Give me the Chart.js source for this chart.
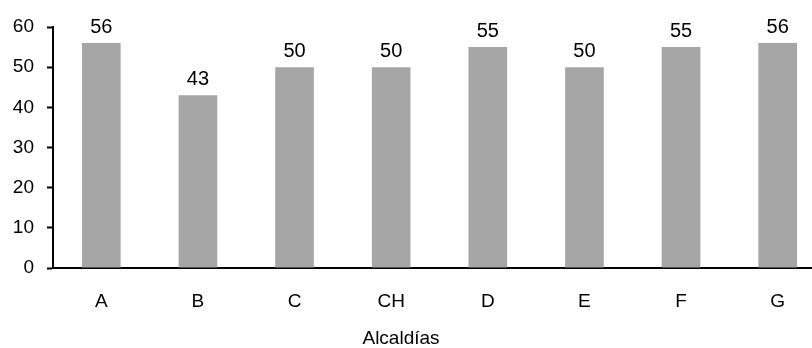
<!DOCTYPE html>
<html>
<head>
<meta charset="utf-8">
<script src="https://cdn.jsdelivr.net/npm/chart.js@4"></script>
<style>
  html, body { margin: 0; padding: 0; background: #fff; overflow: hidden; }
  #wrap { position: relative; width: 826px; height: 348px; }
</style>
</head>
<body>
<div id="wrap"><canvas id="chart"></canvas></div>
<script>
// Alcaldías and their values
const categories = ['A', 'B', 'C', 'CH', 'D', 'E', 'F', 'G'];
const values = [56, 43, 50, 50, 55, 50, 55, 56];
const yTicks = [0, 10, 20, 30, 40, 50, 60];
const axisTitle = 'Alcaldías';

const FONT = '"Liberation Sans", Arial, sans-serif';
const SIZE = 19;
const LABEL_SIZE = 20;

// value written above each bar
const barValueLabels = {
  id: 'barValueLabels',
  afterDatasetsDraw(chart) {
    const ctx = chart.ctx;
    const meta = chart.getDatasetMeta(0);
    ctx.save();
    ctx.font = LABEL_SIZE + 'px ' + FONT;
    ctx.fillStyle = '#000';
    ctx.textAlign = 'center';
    ctx.textBaseline = 'alphabetic';
    meta.data.forEach((bar, i) => {
      ctx.fillText(String(values[i]), bar.x, bar.y - 10);
    });
    ctx.restore();
  }
};

// category axis caption
const axisCaption = {
  id: 'axisCaption',
  afterDraw(chart) {
    const ctx = chart.ctx;
    ctx.save();
    ctx.font = SIZE + 'px ' + FONT;
    ctx.fillStyle = '#000';
    ctx.textAlign = 'center';
    ctx.textBaseline = 'middle';
    ctx.fillText(axisTitle, 401, 339);
    ctx.restore();
  }
};

new Chart(document.getElementById('chart'), {
  type: 'bar',
  data: {
    labels: categories,
    datasets: [{
      data: values,
      backgroundColor: '#a6a6a6',
      borderWidth: 0,
      categoryPercentage: 0.4,
      barPercentage: 1
    }]
  },
  options: {
    responsive: true,
    maintainAspectRatio: false,
    animation: false,
    layout: { padding: { top: 27, right: 0, bottom: 0, left: 0 } },
    plugins: {
      legend: { display: false },
      tooltip: { enabled: false }
    },
    scales: {
      x: {
        grid: { display: false, drawTicks: false },
        border: { display: true, color: '#000', width: 2 },
        ticks: {
          color: '#000',
          font: { family: FONT, size: SIZE },
          padding: 22,
          maxRotation: 0
        },
        afterFit(scale) { scale.height = 80; }
      },
      y: {
        min: 0,
        max: 60,
        afterBuildTicks(scale) { scale.ticks = yTicks.map(v => ({ value: v })); },
        grid: {
          display: true,
          drawOnChartArea: false,
          drawTicks: true,
          tickLength: 6,
          tickColor: '#000',
          tickWidth: 2
        },
        border: { display: true, color: '#000', width: 2 },
        ticks: {
          color: '#000',
          font: { family: FONT, size: SIZE },
          padding: 13
        },
        afterFit(scale) { scale.width = 53; }
      }
    }
  },
  plugins: [barValueLabels, axisCaption]
});
</script>
</body>
</html>
